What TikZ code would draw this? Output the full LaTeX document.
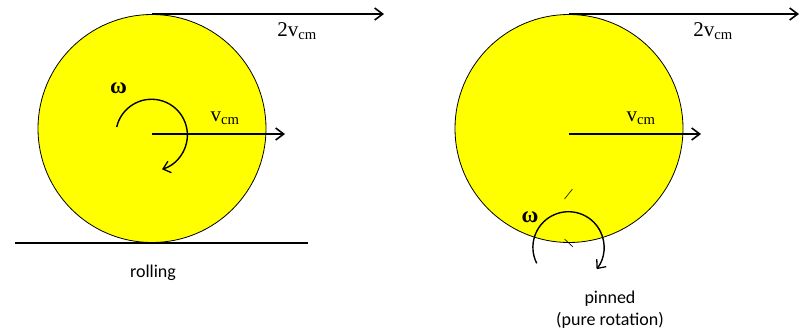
\documentclass[tikz,border=0pt]{standalone}
\usepackage{fontspec}
\setmainfont{Liberation Serif}
\newfontfamily\labelfont{Carlito}
\usetikzlibrary{arrows.meta}
\definecolor{diskyellow}{RGB}{255,255,0}
\begin{document}
\begin{tikzpicture}[x=1pt,y=-1pt,
  disk/.style={draw=black,line width=0.8pt,fill=diskyellow},
  vec/.style={line width=1.8pt,-{Straight Barb[length=8pt,width=12pt,line width=1.6pt]}},
  rot/.style={line width=1.4pt,-{Straight Barb[length=7pt,width=12pt,line width=1.3pt]}},
  lbl/.style={font=\fontsize{21}{23}\selectfont,inner sep=0pt},
  omega/.style={font=\bfseries\fontsize{23}{25}\selectfont,inner sep=0pt},
  captext/.style={font=\labelfont\fontsize{18}{22}\selectfont,inner sep=0pt,align=center}]
\useasboundingbox (0,0) rectangle (806,333);
% left: rolling
\node[disk,circle,minimum size=228pt,inner sep=0pt] (dL) at (152,128.5) {};
\coordinate (cL) at (152,134);
\coordinate (tL) at (152,14);
\coordinate (eL1) at (384,14);
\coordinate (eL2) at (285,134);
\draw[vec] (tL) -- (eL1);
\draw[vec] (cL) -- (eL2);
\node[lbl] (v2L) at (297,31) {2v\textsubscript{cm}};
\node[lbl] (vL) at (225,118) {v\textsubscript{cm}};
\node[omega] (wL) at (118.5,88) {ω};
\draw[rot] (116.7,127) arc[start angle=-167,end angle=73,radius=35.8];
\coordinate (g1) at (15,243);
\coordinate (g2) at (308,243);
\draw[line width=1.5pt] (g1) -- (g2);
\node[captext] (rolling) at (153,273) {rolling};
% right: pinned
\node[disk,circle,minimum size=228pt,inner sep=0pt] (dR) at (569,128.5) {};
\coordinate (cR) at (569,134);
\coordinate (tR) at (569,14);
\coordinate (eR1) at (799,14);
\coordinate (eR2) at (701,134);
\draw[vec] (tR) -- (eR1);
\draw[vec] (cR) -- (eR2);
\node[lbl] (v2R) at (713,31) {2v\textsubscript{cm}};
\node[lbl] (vR) at (641,118) {v\textsubscript{cm}};
\node[omega] (wR) at (530,217) {ω};
\draw[rot] (536.7,263.3) arc[start angle=-206.7,end angle=38,radius=35.6];
\draw[line width=0.6pt] (564.5,199) -- (572.5,189);
\draw[line width=0.6pt] (564.5,239) -- (573,247);
\node[captext] (pinned) at (610,310) {pinned\\(pure rotation)};
\end{tikzpicture}
\end{document}
